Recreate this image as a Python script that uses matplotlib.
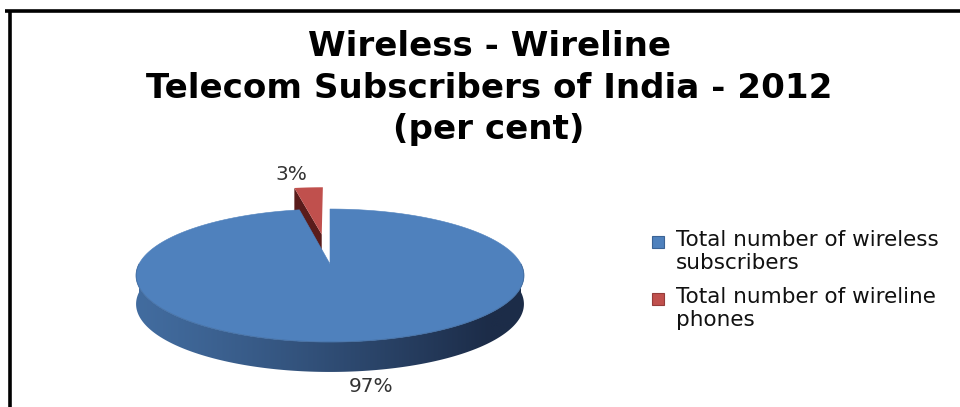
import numpy as np
import matplotlib
matplotlib.use("Agg")
import matplotlib.pyplot as plt
from matplotlib.patches import Polygon, Rectangle
from matplotlib.colors import to_rgb

# Data
categories = ["Total number of wireless\nsubscribers", "Total number of wireline\nphones"]
shares = [97, 3]
value_labels = ["97%", "3%"]
title_lines = ["Wireless - Wireline", "Telecom Subscribers of India - 2012", "(per cent)"]

top_colors = ["#4F81BD", "#C0504D"]
side_dark = ["#1c2c48", "#5a1c1b"]
side_light = ["#426c9f", "#7a2826"]
explode = [0.0, 0.5]

W, H = 960, 407
fig = plt.figure(figsize=(W / 100, H / 100), dpi=100)
ax = fig.add_axes([0, 0, 1, 1])
ax.set_xlim(0, W)
ax.set_ylim(H, 0)
ax.axis("off")

# frame lines (top and left)
ax.plot([5, W], [10.5, 10.5], color="black", lw=2.6, solid_capstyle="butt")
ax.plot([9.5, 9.5], [10, H], color="black", lw=2.6, solid_capstyle="butt")

FONT = ["DejaVu Sans"]
for i, (line, yy) in enumerate(zip(title_lines, [47, 88, 129])):
    ax.text(489, yy, line, ha="center", va="center", fontsize=24.6,
            fontweight="bold", family=FONT, color="black")

# perspective projection of a unit-radius pie lying on a table
CX, CY = 330.0, 264.0
A, B, K, DEPTH = 191.0, 64.5, 0.173, 28.3


def proj(X, Y, z=0.0):
    s = 1.0 / (1.0 + K * Y)
    return CX + A * X * s, CY - B * Y * s + z * DEPTH * s ** 0.3


# slice angles: clockwise from 12 o'clock
fr = np.array(shares, dtype=float) / sum(shares)
starts = 90.0 - 360.0 * np.concatenate([[0], np.cumsum(fr)[:-1]])
ends = starts - 360.0 * fr


def wedge(i):
    a0, a1 = ends[i], starts[i]
    mid = np.radians((a0 + a1) / 2)
    ox, oy = explode[i] * np.cos(mid), explode[i] * np.sin(mid)
    ang = np.radians(np.linspace(a0, a1, 200))
    return ang, ox, oy


# wireline slice (exploded, behind): visible radial cut face, then top
ang, ox, oy = wedge(1)
a_cut = np.radians(starts[1])
px = [ox, ox + np.cos(a_cut)]
py = [oy, oy + np.sin(a_cut)]
face = [proj(px[0], py[0], 0), proj(px[1], py[1], 0),
        proj(px[1], py[1], 1), proj(px[0], py[0], 1)]
ax.add_patch(Polygon(face, closed=True, fc=side_dark[1], ec="none", zorder=2))
top = [proj(ox, oy)] + [proj(ox + np.cos(t), oy + np.sin(t)) for t in ang]
ax.add_patch(Polygon(top, closed=True, fc=top_colors[1], ec="none", zorder=3))

# wireless slice: shaded front wall, then top face
ang, ox, oy = wedge(0)
front = np.radians(np.linspace(180, 360, 300))
upper = [proj(np.cos(t), np.sin(t), 0) for t in front]
lower = [proj(np.cos(t), np.sin(t), 1) for t in front[::-1]]
wall = Polygon(upper + lower, closed=True, fc="none", ec="none", zorder=4)
ax.add_patch(wall)
xs = np.array([p[0] for p in upper])
ys = np.array([p[1] for p in upper + lower])
u = np.linspace(0, 1, 256)
c0, c1 = np.array(to_rgb(side_light[0])), np.array(to_rgb(side_dark[0]))
t = np.clip(u ** 1.2 * 1.12, 0, 1)[:, None]
grad = (c0 + (c1 - c0) * t)[None, :, :]
im = ax.imshow(grad, extent=(xs.min() - 1, xs.max() + 1, ys.max() + 1, ys.min() - 1),
               aspect="auto", interpolation="bilinear", zorder=4)
im.set_clip_path(wall)
ax.set_xlim(0, W)
ax.set_ylim(H, 0)
top = [proj(ox, oy)] + [proj(ox + np.cos(t), oy + np.sin(t)) for t in ang]
ax.add_patch(Polygon(top, closed=True, fc=top_colors[0], ec=top_colors[0],
                     lw=0.4, zorder=5))
# faint rim where the top face meets the wall
ax.plot([p[0] for p in upper], [p[1] for p in upper], color="#3d6596",
        lw=0.7, alpha=0.6, zorder=5.5)

# value labels
ax.text(291, 174, value_labels[1], ha="center", va="center", fontsize=14.5,
        family=FONT, color="#333333", zorder=6)
ax.text(371, 387, value_labels[0], ha="center", va="center", fontsize=14.5,
        family=FONT, color="#333333", zorder=6)

# legend
edge_cols = ["#3b6395", "#953c3a"]
for i, (lab, yy) in enumerate(zip(categories, [242, 299])):
    ax.add_patch(Rectangle((652, yy - 6), 12, 12, fc=top_colors[i],
                           ec=edge_cols[i], lw=0.8, zorder=6))
    ax.text(676, yy - 12, lab, ha="left", va="top", fontsize=15.5,
            family=FONT, color="#111111", linespacing=1.2, zorder=6)

fig.savefig("out.png", dpi=100)
